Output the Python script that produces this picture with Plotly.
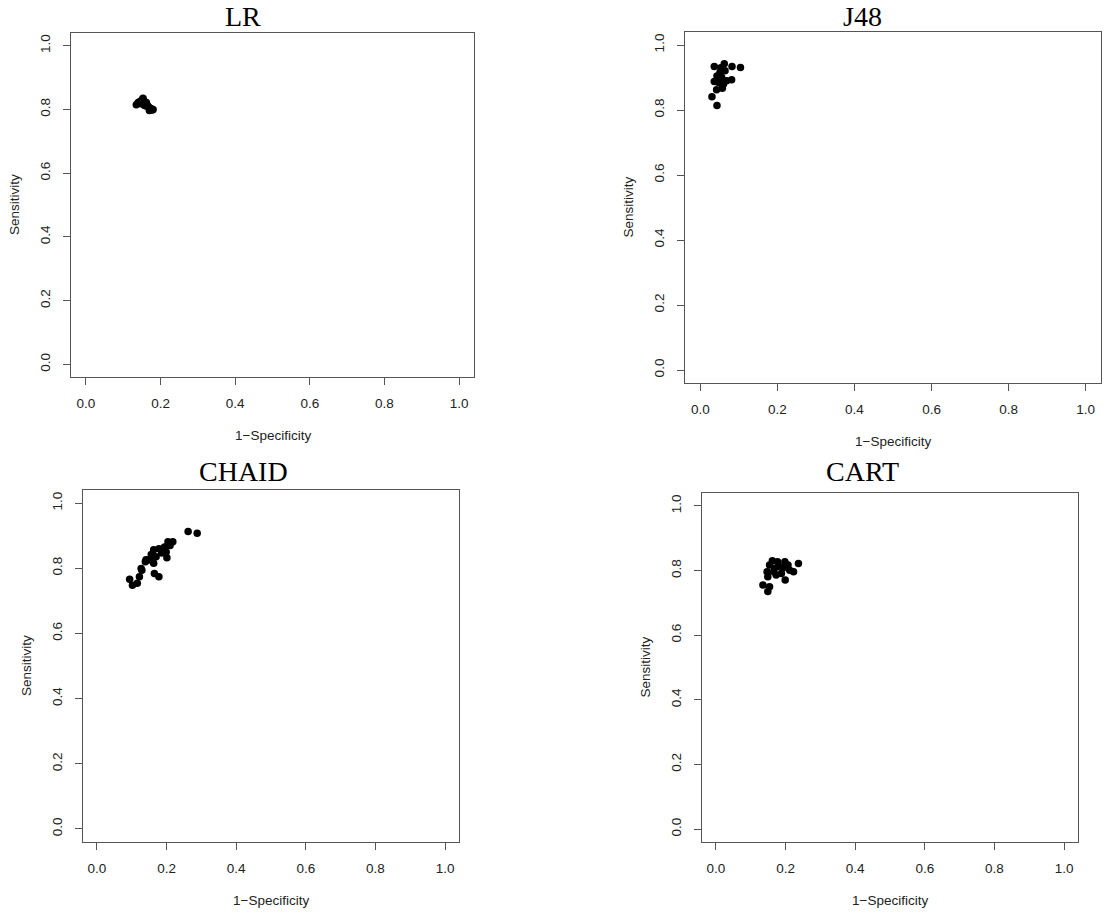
import plotly.graph_objects as go

W, H = 1106, 917

# ---- data (1-Specificity, Sensitivity) ----
lr_x = [0.135, 0.140, 0.145, 0.150, 0.153, 0.155, 0.158, 0.160, 0.162, 0.165,
        0.168, 0.170, 0.172, 0.175, 0.178, 0.180, 0.148, 0.163, 0.157, 0.170]
lr_y = [0.815, 0.822, 0.825, 0.830, 0.835, 0.828, 0.820, 0.815, 0.822, 0.812,
        0.808, 0.805, 0.800, 0.802, 0.798, 0.800, 0.818, 0.810, 0.812, 0.797]

j48_x = [0.030, 0.043, 0.036, 0.062, 0.082, 0.104, 0.081, 0.036, 0.042, 0.057,
         0.051, 0.064, 0.055, 0.068, 0.047, 0.060, 0.043, 0.053]
j48_y = [0.841, 0.814, 0.934, 0.942, 0.934, 0.931, 0.893, 0.888, 0.862, 0.867,
         0.916, 0.921, 0.901, 0.890, 0.885, 0.880, 0.905, 0.930]

chaid_x = [0.262, 0.288, 0.094, 0.102, 0.116, 0.122, 0.127, 0.129, 0.139, 0.148,
           0.156, 0.163, 0.163, 0.159, 0.165, 0.178, 0.178, 0.186, 0.194, 0.201,
           0.204, 0.210, 0.218, 0.199, 0.170, 0.141]
chaid_y = [0.913, 0.907, 0.766, 0.748, 0.754, 0.774, 0.799, 0.794, 0.820, 0.825,
           0.842, 0.857, 0.815, 0.830, 0.784, 0.774, 0.860, 0.847, 0.865, 0.832,
           0.881, 0.870, 0.881, 0.850, 0.835, 0.826]

cart_x = [0.135, 0.149, 0.154, 0.149, 0.147, 0.154, 0.162, 0.168, 0.173, 0.183,
          0.188, 0.198, 0.199, 0.207, 0.212, 0.223, 0.237, 0.177, 0.166, 0.192]
cart_y = [0.755, 0.735, 0.750, 0.781, 0.796, 0.817, 0.830, 0.807, 0.786, 0.812,
          0.791, 0.827, 0.771, 0.817, 0.801, 0.796, 0.822, 0.827, 0.796, 0.807]

titles = ["LR", "J48", "CHAID", "CART"]
tick_vals = [0.0, 0.2, 0.4, 0.6, 0.8, 1.0]
tick_text = ["0.0", "0.2", "0.4", "0.6", "0.8", "1.0"]
x_label = "1\u2212Specificity"
y_label = "Sensitivity"

series = [(lr_x, lr_y), (j48_x, j48_y), (chaid_x, chaid_y), (cart_x, cart_y)]

# ---- layout: plot boxes in pixels (left, top, right, bottom) ----
boxes = [(71, 33, 474, 377), (685, 32, 1101, 383),
         (83, 490, 459, 842), (702, 493, 1078, 842)]
# title centre x and top y (pixels)
title_pos = [(243, 0), (862, 0), (243, 455), (862, 455)]

fig = go.Figure()
axis_color = "#555555"
tick_font = dict(family="Liberation Sans, Arial, sans-serif", size=13.5, color="#222222")

layout = dict(width=W, height=H, margin=dict(l=0, r=0, t=0, b=0),
              paper_bgcolor="white", plot_bgcolor="white", showlegend=False)
annotations = []

for i, ((xs, ys), (l, t, r, b)) in enumerate(zip(series, boxes)):
    k = "" if i == 0 else str(i + 1)
    fig.add_trace(go.Scatter(x=xs, y=ys, mode="markers",
                             marker=dict(color="black", size=7.5),
                             xaxis="x" + k, yaxis="y" + k))
    common = dict(range=[-0.04, 1.04], tickvals=tick_vals, ticktext=tick_text,
                  showgrid=False, zeroline=False, showline=True, mirror=True,
                  linecolor=axis_color, linewidth=1.3, ticks="outside",
                  ticklen=7, tickcolor=axis_color, tickwidth=1.2,
                  tickfont=tick_font, ticklabelstandoff=7, fixedrange=True)
    layout["xaxis" + k] = dict(common, domain=[l / W, r / W], anchor="y" + k)
    layout["yaxis" + k] = dict(common, domain=[1 - b / H, 1 - t / H], anchor="x" + k,
                               tickangle=-90)
    cx = (l + r) / 2
    cy = (t + b) / 2
    annotations.append(dict(text=x_label, x=cx / W, y=1 - (b + 58) / H,
                            xref="paper", yref="paper", showarrow=False,
                            xanchor="center", yanchor="middle",
                            font=dict(family="Liberation Sans, Arial, sans-serif",
                                      size=13.5, color="#222222")))
    annotations.append(dict(text=y_label, x=(l - 57) / W, y=1 - cy / H,
                            xref="paper", yref="paper", showarrow=False,
                            xanchor="center", yanchor="middle", textangle=-90,
                            font=dict(family="Liberation Sans, Arial, sans-serif",
                                      size=13.5, color="#222222")))
    tx, ty = title_pos[i]
    annotations.append(dict(text=titles[i], x=tx / W, y=1 - ty / H,
                            xref="paper", yref="paper", showarrow=False,
                            xanchor="center", yanchor="top", borderpad=0,
                            font=dict(family="Liberation Serif, Times New Roman, serif",
                                      size=28, color="black")))

layout["annotations"] = annotations
fig.update_layout(**layout)
fig.write_html("out.html", config={"displayModeBar": False})
